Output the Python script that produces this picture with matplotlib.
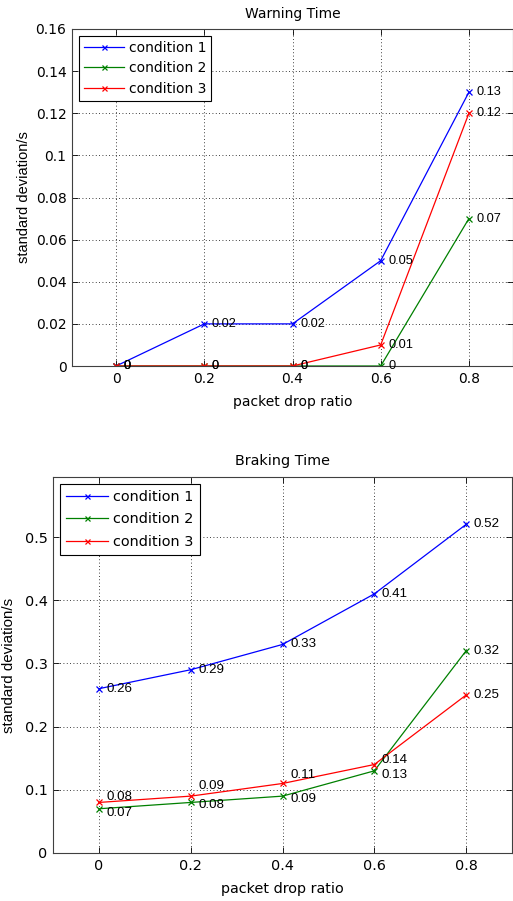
import matplotlib
matplotlib.use("Agg")
import matplotlib.pyplot as plt

plt.rcParams['font.family'] = ['DejaVu Sans']
plt.rcParams['font.size'] = 10

x = [0, 0.2, 0.4, 0.6, 0.8]
xticks = [0, 0.2, 0.4, 0.6, 0.8]
labels = ['condition 1', 'condition 2', 'condition 3']

warn_c1 = [0, 0.02, 0.02, 0.05, 0.13]
warn_c2 = [0, 0, 0, 0, 0.07]
warn_c3 = [0, 0, 0, 0.01, 0.12]

brake_c1 = [0.26, 0.29, 0.33, 0.41, 0.52]
brake_c2 = [0.07, 0.08, 0.09, 0.13, 0.32]
brake_c3 = [0.08, 0.09, 0.11, 0.14, 0.25]

warn_yticks = [0, 0.02, 0.04, 0.06, 0.08, 0.1, 0.12, 0.14, 0.16]
brake_yticks = [0, 0.1, 0.2, 0.3, 0.4, 0.5]

colors = ['#0000ff', '#008000', '#ff0000']

# vertical label offsets in pixels
warn_off = [[0, 0, 0, 0, 0], [0, 0, 0, 0, 0], [0, 0, 0, 0, 0]]
brake_off = [[0, 0, 0, 0, 0], [-4, -3, -3, -4, 0], [5, 10, 8, 5, 0]]

fig = plt.figure(figsize=(5.13, 9.01), dpi=100)
ax1 = fig.add_axes([72/513, 1-366/901, 441/513, (366-29)/901])
ax2 = fig.add_axes([53/513, 1-853/901, 459/513, (853-477)/901])


def fmt(v):
    if v == 0:
        return '0'
    return '%g' % round(v, 2)


def draw(ax, series, offs, ylim, yticks, title, axh, axw, fs, legpad, ylab_x, tpad,
         lspace, bpad):
    for s, c, lab, off in zip(series, colors, labels, offs):
        ax.plot(x, s, color=c, lw=0.9, marker='x', ms=4.5, mew=0.9, label=lab)
        for xi, yi, o in zip(x, s, off):
            ax.annotate(fmt(yi), (xi, yi), xytext=(5.5, o * 0.72), textcoords='offset points',
                        ha='left', va='center', fontsize=fs - 0.8,
                        family='Liberation Sans')
    ax.set_xlim(-0.1, 0.9)
    ax.set_ylim(*ylim)
    ax.set_xticks(xticks)
    ax.set_xticklabels([fmt(t) for t in xticks])
    ax.set_yticks(yticks)
    ax.set_yticklabels([fmt(t) for t in yticks])
    ax.grid(True, color='black', linestyle=(0, (1, 3)), linewidth=0.6)
    ax.tick_params(direction='in', top=True, right=True, length=4, width=0.6, pad=4,
                   labelsize=fs)
    for sp in ax.spines.values():
        sp.set_linewidth(0.8)
        sp.set_color('#404040')
    ax.set_title(title, fontsize=fs, pad=tpad)
    ax.set_xlabel('packet drop ratio', fontsize=fs)
    ax.set_ylabel('standard deviation/s', fontsize=fs + 0.5, family='Liberation Sans')
    ax.xaxis.set_label_coords(0.5, -29 / axh)
    ax.yaxis.set_label_coords(ylab_x, 0.5)
    leg = ax.legend(loc='upper left', handlelength=2.9, numpoints=1, fancybox=False,
                    framealpha=1, edgecolor='black', borderaxespad=legpad,
                    labelspacing=lspace, handletextpad=0.35, borderpad=bpad,
                    fontsize=fs, markerscale=0.8)
    leg.get_frame().set_linewidth(0.8)


draw(ax1, [warn_c1, warn_c2, warn_c3], warn_off, (0, 0.16), warn_yticks, 'Warning Time',
     337, 441, 10, 0.5, (31 - 72) / 441, 8, 0.47, 0.35)
draw(ax2, [brake_c1, brake_c2, brake_c3], brake_off, (0, 0.595), brake_yticks, 'Braking Time',
     376, 459, 10.4, 0.45, (16 - 53) / 459, 9, 0.58, 0.45)

fig.savefig('out.png', dpi=100)
